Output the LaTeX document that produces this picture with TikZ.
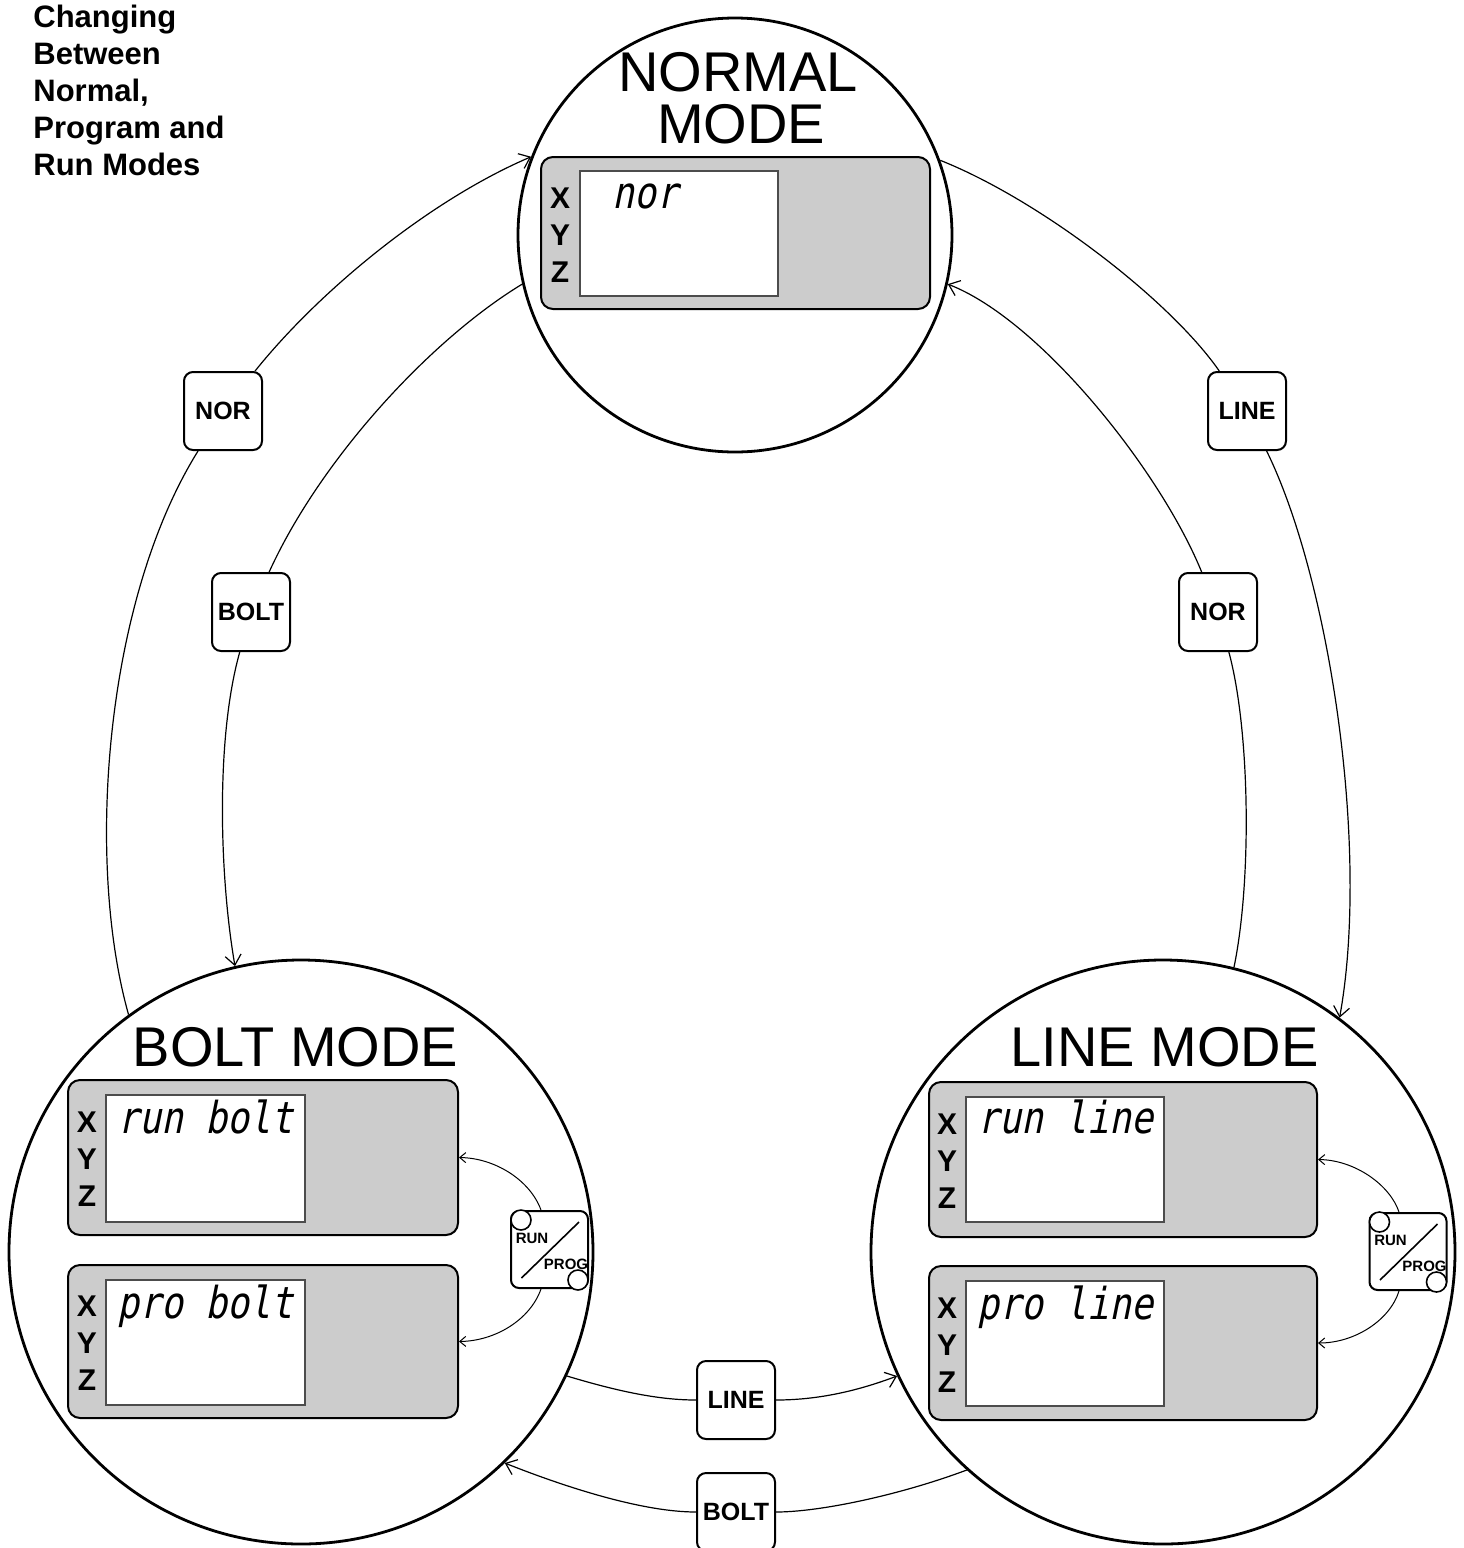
\documentclass[tikz,border=0pt]{standalone}
\usepackage{fontspec}
\setmainfont{Liberation Sans}
\newfontfamily\segfont[FakeSlant=0.2,FakeStretch=0.83]{DejaVu Sans Mono}
\usetikzlibrary{arrows.meta,calc}
\begin{document}
\begin{tikzpicture}[x=0.5pt,y=-0.5pt,
  modebig/.style={circle, draw, line width=1.4pt, minimum size=292pt, inner sep=0},
  modesmall/.style={circle, draw, line width=1.4pt, minimum size=217pt, inner sep=0},
  display/.style={draw, line width=1pt, rounded corners=6pt, fill=black!20, inner sep=0},
  screen/.style={draw=black!70, line width=0.8pt, fill=white, inner sep=0},
  axislabel/.style={font=\bfseries\fontsize{15}{15}\selectfont, inner sep=0},
  segtext/.style={font=\segfont\fontsize{22}{22}\selectfont, inner sep=0, anchor=base west},
  modelabel/.style={font=\fontsize{28}{28}\selectfont, inner sep=0, anchor=base},
  keybox/.style={draw, line width=1pt, rounded corners=4.5pt, fill=white, minimum size=39pt, inner sep=0, font=\bfseries\fontsize{12.5}{12.5}\selectfont},
  rpbox/.style={draw, line width=1pt, rounded corners=4pt, fill=white, minimum size=38.5pt, inner sep=0},
  rpdot/.style={circle, draw, line width=0.8pt, fill=white, minimum size=10pt, inner sep=0},
  rplabel/.style={font=\bfseries\fontsize{7.5}{7.5}\selectfont, inner sep=0},
  conn/.style={line width=0.6pt},
  connarrow/.style={line width=0.6pt, -{Straight Barb[length=5pt,width=8pt]}},
  smallarrow/.style={line width=0.5pt, -{Straight Barb[length=3pt,width=5pt]}}
]
\useasboundingbox (0,0) rectangle (1463,1548);

% title
\node[anchor=north west, align=left, inner sep=0,
      font=\bfseries\fontsize{15.5}{18.5}\selectfont] (title) at (33,5)
      {Changing\\Between\\Normal,\\Program and\\Run Modes};

% mode circles
\node[modesmall] (normal) at (735,235) {};
\node[modebig] (bolt) at (301,1252) {};
\node[modebig] (line) at (1163,1252) {};

% mode labels
\node[modelabel] (ntitleA) at (738,91) {NORMAL};
\node[modelabel] (ntitleB) at (741,143) {MODE};
\node[modelabel] (btitle) at (295.5,1066) {BOLT MODE};
\node[modelabel] (ltitle) at (1164.5,1066) {LINE MODE};

% displays
\node[display, minimum width=194.5pt, minimum height=76pt] (nd) at (735.5,233) {};
\node[screen, minimum width=99pt, minimum height=62.5pt] (nds) at (679,233.5) {};
\node[display, minimum width=195pt, minimum height=77.5pt] (btd) at (263,1157.5) {};
\node[screen, minimum width=99.5pt, minimum height=63.5pt] (btds) at (205.5,1158.5) {};
\node[display, minimum width=195pt, minimum height=76.5pt] (bbd) at (263,1341.5) {};
\node[screen, minimum width=99.5pt, minimum height=62.5pt] (bbds) at (205.5,1342.5) {};
\node[display, minimum width=194pt, minimum height=77.5pt] (ltd) at (1123,1159.5) {};
\node[screen, minimum width=99pt, minimum height=62.5pt] (ltds) at (1065,1159.5) {};
\node[display, minimum width=194pt, minimum height=77pt] (lbd) at (1123,1343) {};
\node[screen, minimum width=99pt, minimum height=62.5pt] (lbds) at (1065,1343.5) {};

% axis letters
\foreach \d/\dx/\dy in {nd/560/233, btd/87/1157.5, bbd/87/1341.5, ltd/947/1159.5, lbd/947/1343} {
  \node[axislabel] (\d-x) at (\dx,\dy-35) {X};
  \node[axislabel] (\d-y) at (\dx,\dy+2) {Y};
  \node[axislabel] (\d-z) at (\dx,\dy+39) {Z};
}

% display texts
\node[segtext] (nd-t) at (612,208) {nor};
\node[segtext] (btd-t) at (117,1133) {run bolt};
\node[segtext] (bbd-t) at (117,1318) {pro bolt};
\node[segtext] (ltd-t) at (977,1133) {run line};
\node[segtext] (lbd-t) at (977,1319) {pro line};

% RUN/PROG keys
\foreach \k/\kx/\ky in {rpB/549.5/1249.5, rpL/1408/1251.5} {
  \node[rpbox] (\k) at (\kx,\ky) {};
  \draw[line width=0.8pt] ($(\k)+(-28,28.5)$) -- ($(\k)+(29.5,-27.5)$);
  \node[rpdot] (\k-a) at ($(\k)+(-28.5,-29.5)$) {};
  \node[rpdot] (\k-b) at ($(\k)+(28.5,30.5)$) {};
  \node[rplabel] (\k-run) at ($(\k)+(-17.5,-11.5)$) {RUN};
  \node[rplabel] (\k-prog) at ($(\k)+(16.5,14.5)$) {PROG};
}

% key boxes on the ring
\node[keybox] (norL) at (223,411) {NOR};
\node[keybox] (boltL) at (251,612) {BOLT};
\node[keybox] (lineR) at (1247,411) {LINE};
\node[keybox] (norR) at (1218,612) {NOR};
\node[keybox] (lineB) at (736,1400) {LINE};
\node[keybox] (boltB) at (736,1512) {BOLT};

% ring connectors
\draw[conn] (bolt.126) .. controls (85,860) and (105,600) .. (norL);
\draw[connarrow] (norL) .. controls (320,290) and (430,200) .. (normal.159);

\draw[conn] (normal.193) .. controls (430,340) and (320,460) .. (boltL);
\draw[connarrow] (boltL) .. controls (215,740) and (220,880) .. (bolt.103);

\draw[conn] (normal.20) .. controls (1040,200) and (1170,300) .. (lineR);
\draw[connarrow] (lineR) .. controls (1330,580) and (1370,850) .. (line.53.5);

\draw[conn] (line.76) .. controls (1252,880) and (1250,730) .. (norR);
\draw[connarrow] (norR) .. controls (1160,470) and (1040,320) .. (normal.347);

\draw[conn] (bolt.335) .. controls (620,1392) and (660,1400) .. (lineB);
\draw[connarrow] (lineB) .. controls (820,1400) and (860,1390) .. (line.205);

\draw[conn] (line.228) .. controls (900,1495) and (820,1512) .. (boltB);
\draw[connarrow] (boltB) .. controls (640,1512) and (560,1485) .. (bolt.314);

% RUN/PROG toggles
\draw[smallarrow] ([xshift=-4.25pt]rpB.north) .. controls (530,1180) and (495,1158) .. (btd.east);
\draw[smallarrow] ([xshift=-4.25pt]rpB.south) .. controls (530,1320) and (495,1341) .. (bbd.east);
\draw[smallarrow] ([xshift=-4.5pt]rpL.north) .. controls (1390,1185) and (1355,1160) .. (ltd.east);
\draw[smallarrow] ([xshift=-4.5pt]rpL.south) .. controls (1390,1320) and (1355,1343) .. (lbd.east);
\end{tikzpicture}
\end{document}
